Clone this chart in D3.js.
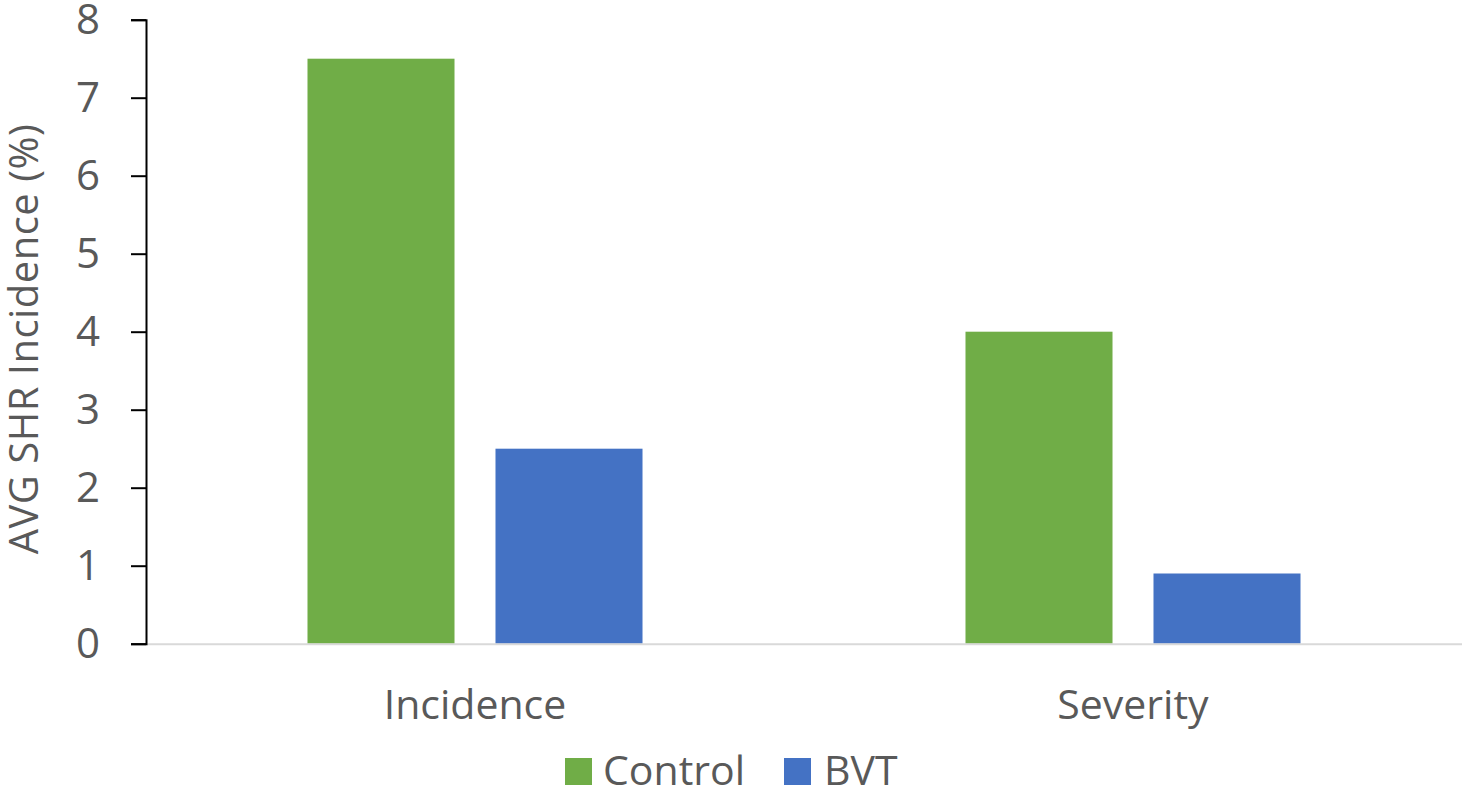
<!DOCTYPE html>
<html>
<head>
<meta charset="utf-8">
<script src="https://cdn.jsdelivr.net/npm/d3@7"></script>
<style>
  html, body { margin: 0; padding: 0; background: #fff; }
  svg { display: block; font-family: "Open Sans", Lato, sans-serif; }
</style>
</head>
<body>
<svg id="chart" width="1463" height="793"></svg>
<script>
// Chart data
const categories = ["Incidence", "Severity"];
const seriesNames = ["Control", "BVT"];
const controlValues = [7.5, 4.0];
const bvtValues = [2.5, 0.9];
const yTicks = [0, 1, 2, 3, 4, 5, 6, 7, 8];
const yTitle = "AVG SHR Incidence (%)";

const colors = { Control: "#70AD47", BVT: "#4472C4" };
const textColor = "#595959";
const fontFamily = "'Open Sans', Lato, sans-serif";

const svg = d3.select("#chart");
const plot = { left: 146, right: 1462, top: 19.7, bottom: 643.7 };

const y = d3.scaleLinear().domain([0, 8]).range([plot.bottom, plot.top]);
const x0 = d3.scaleBand().domain(categories).range([plot.left, plot.right]).padding(0);
const x1 = d3.scaleBand().domain(seriesNames).range([0, x0.bandwidth()])
  .paddingInner(0.218).paddingOuter(0.859);

const rows = categories.map((c, i) => ({
  category: c,
  values: [
    { series: "Control", value: controlValues[i] },
    { series: "BVT", value: bvtValues[i] }
  ]
}));

// Bars
const groups = svg.append("g").selectAll("g").data(rows).join("g")
  .attr("transform", d => `translate(${x0(d.category)},0)`);
groups.selectAll("rect").data(d => d.values).join("rect")
  .attr("x", d => x1(d.series))
  .attr("y", d => y(d.value))
  .attr("width", x1.bandwidth())
  .attr("height", d => y(0) - y(d.value))
  .attr("fill", d => colors[d.series]);

// Category axis line
svg.append("line")
  .attr("x1", plot.left).attr("x2", plot.right)
  .attr("y1", y(0) + 0.5).attr("y2", y(0) + 0.5)
  .attr("stroke", "#d9d9d9").attr("stroke-width", 2);

// Category labels
svg.append("g").selectAll("text").data(categories).join("text")
  .attr("x", d => x0(d) + x0.bandwidth() / 2)
  .attr("y", 719)
  .attr("text-anchor", "middle")
  .attr("fill", textColor)
  .attr("font-size", 41)
  .text(d => d);

// Value axis
const yAxis = d3.axisLeft(y).tickValues(yTicks).tickSize(15).tickPadding(31)
  .tickFormat(d3.format("d"));
const gy = svg.append("g").attr("transform", `translate(${plot.left},0)`).call(yAxis);
gy.select(".domain").attr("stroke", "#000").attr("stroke-width", 2);
gy.selectAll(".tick line").attr("stroke", "#000").attr("stroke-width", 2);
gy.selectAll(".tick text").attr("fill", textColor).attr("font-size", 42)
  .attr("font-family", fontFamily);

// Value axis title
svg.append("text")
  .attr("transform", `translate(38, 339) rotate(-90)`)
  .attr("text-anchor", "middle")
  .attr("fill", textColor)
  .attr("font-size", 40)
  .attr("letter-spacing", 0.5)
  .text(yTitle);

// Legend
const legendItems = [
  { name: "Control", sx: 565, tx: 603 },
  { name: "BVT", sx: 784, tx: 824 }
];
const lg = svg.append("g");
lg.selectAll("rect").data(legendItems).join("rect")
  .attr("x", d => d.sx).attr("y", 758).attr("width", 27).attr("height", 27)
  .attr("fill", d => colors[d.name]);
lg.selectAll("text").data(legendItems).join("text")
  .attr("x", d => d.tx).attr("y", 785)
  .attr("fill", textColor).attr("font-size", 41)
  .text(d => d.name);
</script>
</body>
</html>
